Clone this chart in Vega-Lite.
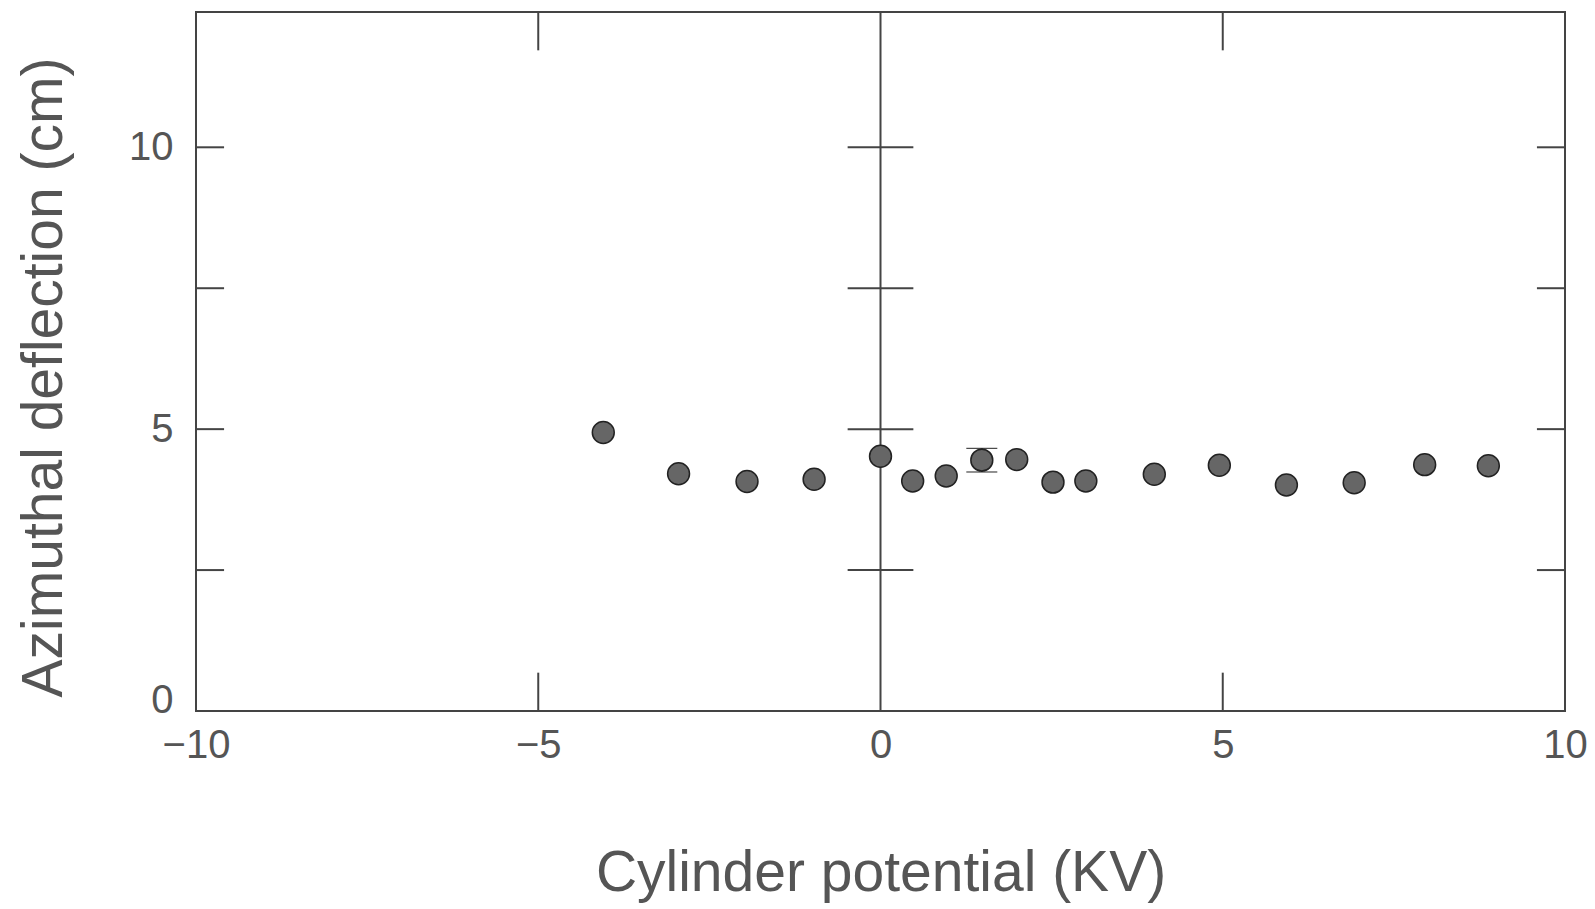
{
  "$schema": "https://vega.github.io/schema/vega-lite/v6.json",
  "autosize": "none",
  "width": 1369,
  "height": 699,
  "padding": {"left": 196, "top": 12, "right": 30, "bottom": 198},
  "background": "white",
  "config": {
    "view": {"stroke": "#444", "strokeWidth": 2},
    "font": "Liberation Sans"
  },
  "datasets": {
    "points": [
      {"x": -4.05, "y": 4.94},
      {"x": -2.95, "y": 4.21},
      {"x": -1.95, "y": 4.07},
      {"x": -0.97, "y": 4.11},
      {"x": 0.0, "y": 4.52},
      {"x": 0.47, "y": 4.08},
      {"x": 0.96, "y": 4.17},
      {"x": 1.48, "y": 4.45},
      {"x": 1.99, "y": 4.46},
      {"x": 2.52, "y": 4.06},
      {"x": 3.0, "y": 4.08},
      {"x": 4.0, "y": 4.2},
      {"x": 4.95, "y": 4.36},
      {"x": 5.93, "y": 4.01},
      {"x": 6.92, "y": 4.05},
      {"x": 7.95, "y": 4.37},
      {"x": 8.88, "y": 4.35}
    ],
    "err": [{"x": 1.48, "lo": 4.24, "hi": 4.66}],
    "vticks": [
      {"x": -5, "y": 0, "y2": 0.68},
      {"x": 5, "y": 0, "y2": 0.68},
      {"x": -5, "y": 12.4, "y2": 11.72},
      {"x": 5, "y": 12.4, "y2": 11.72},
      {"x": 0, "y": 0, "y2": 12.4}
    ],
    "hticks": [
      {"y": 2.5, "x": -10, "x2": -9.59},
      {"y": 5, "x": -10, "x2": -9.59},
      {"y": 7.5, "x": -10, "x2": -9.59},
      {"y": 10, "x": -10, "x2": -9.59},
      {"y": 2.5, "x": 10, "x2": 9.59},
      {"y": 5, "x": 10, "x2": 9.59},
      {"y": 7.5, "x": 10, "x2": 9.59},
      {"y": 10, "x": 10, "x2": 9.59},
      {"y": 2.5, "x": -0.48, "x2": 0.48},
      {"y": 5, "x": -0.48, "x2": 0.48},
      {"y": 7.5, "x": -0.48, "x2": 0.48},
      {"y": 10, "x": -0.48, "x2": 0.48}
    ]
  },
  "layer": [
    {
      "data": {"name": "vticks"},
      "mark": {"type": "rule", "color": "#444", "strokeWidth": 2},
      "encoding": {
        "x": {
          "field": "x", "type": "quantitative",
          "title": "Cylinder potential (KV)",
          "scale": {"domain": [-10, 10], "nice": false, "zero": false},
          "axis": {
            "values": [-10, -5, 0, 5, 10],
            "format": "d",
            "labelExpr": "replace(datum.label, '-', '−')",
            "ticks": false, "domain": false, "grid": false,
            "labelFontSize": 40, "labelColor": "#555", "labelPadding": 14,
            "labelFlush": false,
            "titleFontSize": 57, "titleFontWeight": "normal", "titleColor": "#555",
            "titlePadding": 80
          }
        },
        "y": {
          "field": "y", "type": "quantitative",
          "title": "Azimuthal deflection (cm)",
          "scale": {"domain": [0, 12.4], "nice": false},
          "axis": {
            "values": [0, 5, 10],
            "format": "d",
            "ticks": false, "domain": false, "grid": false,
            "labelFontSize": 40, "labelColor": "#555", "labelPadding": 23,
            "labelFlush": true, "labelFlushOffset": 9,
            "titleFontSize": 57, "titleFontWeight": "normal", "titleColor": "#555",
            "titlePadding": 55, "titleY": 365
          }
        },
        "y2": {"field": "y2"}
      }
    },
    {
      "data": {"name": "hticks"},
      "mark": {"type": "rule", "color": "#444", "strokeWidth": 2},
      "encoding": {
        "x": {"field": "x", "type": "quantitative", "title": "Cylinder potential (KV)"},
        "x2": {"field": "x2"},
        "y": {"field": "y", "type": "quantitative", "title": "Azimuthal deflection (cm)"}
      }
    },
    {
      "data": {"name": "err"},
      "mark": {"type": "errorbar", "color": "#222", "ticks": {"size": 31, "color": "#222", "strokeWidth": 2.5, "opacity": 1}, "rule": {"color": "#222", "strokeWidth": 2, "opacity": 1}},
      "encoding": {
        "x": {"field": "x", "type": "quantitative", "title": "Cylinder potential (KV)"},
        "y": {"field": "lo", "type": "quantitative", "title": "Azimuthal deflection (cm)"},
        "y2": {"field": "hi"}
      }
    },
    {
      "data": {"name": "points"},
      "mark": {"type": "point", "shape": "circle", "filled": true, "size": 480, "fill": "#666", "stroke": "#222", "strokeWidth": 1.5, "opacity": 1},
      "encoding": {
        "x": {"field": "x", "type": "quantitative", "title": "Cylinder potential (KV)"},
        "y": {"field": "y", "type": "quantitative", "title": "Azimuthal deflection (cm)"}
      }
    }
  ]
}
